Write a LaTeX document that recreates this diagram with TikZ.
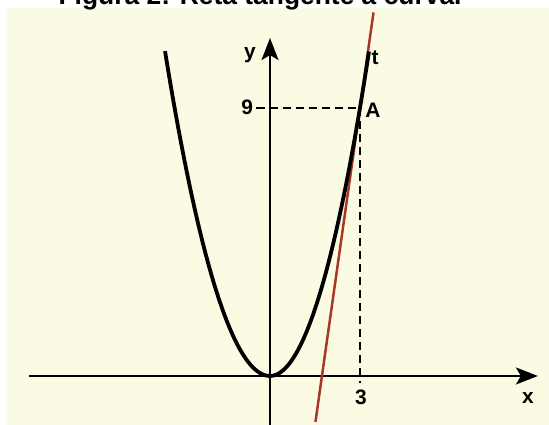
\documentclass[tikz,border=0pt]{standalone}
\usepackage{fontspec}
\setmainfont{Liberation Sans}
\usetikzlibrary{arrows.meta}
\definecolor{paper}{RGB}{251,250,227}
\definecolor{tanred}{RGB}{170,55,38}
\begin{document}
\begin{tikzpicture}[
        x=30bp,
        y=29.8bp,
        font=\fontsize{21}{24}\selectfont\bfseries,
        axis/.style={line width=2bp, -{Stealth[length=22bp,width=17bp,inset=5bp]}},
        guide/.style={line width=1.5bp, dash pattern=on 8bp off 5bp}
    ]
    \useasboundingbox (-9,-1.644) rectangle (9.3,12.617);

    % Scanned page
    \fill[paper] (-8.77,-1.644) rectangle (9.3,12.35);

    % Title
    \node[anchor=base, font=\fontsize{26.5}{30}\selectfont\bfseries] (title)
        at (-0.33,12.48) {Figura 2: Reta tangente à curva.};

    % Axes
    \coordinate (xstart) at (-8.03,0);
    \coordinate (xend) at (8.93,0);
    \coordinate (ystart) at (0,-1.7);
    \coordinate (yend) at (0,11.34);
    \draw[axis] (xstart) -- (xend);
    \draw[axis] (ystart) -- (yend);

    % Tangent line t
    \coordinate (tlow) at (1.515,-1.54);
    \coordinate (thigh) at (3.45,12.2);
    \draw[tanred, line width=2.5bp] (tlow) -- (thigh);

    % Curve
    \draw[line width=3.8bp, line join=round]
        plot[domain=-3.5:0, samples=40] (\x,{0.89*\x*\x})
        -- plot[domain=0:3.3, samples=40] (\x,{\x*\x});

    % Point A
    \coordinate (A) at (3,9);
    \coordinate (Afoot) at (3,-0.25);
    \node[anchor=east] (nine) at (-0.45,9) {9};
    \draw[guide] (nine.east) -- (A);
    \draw[guide] (A) -- (Afoot);
    \node (alabel) at (3.43,8.93) {A};
    \node (tlabel) at (3.5,10.67) {t};

    % Axis labels
    \node (ylabel) at (-0.67,10.77) {y};
    \node (xlabel) at (8.6,-0.74) {x};
    \node (three) at (3.03,-0.7) {3};

\end{tikzpicture}
\end{document}
